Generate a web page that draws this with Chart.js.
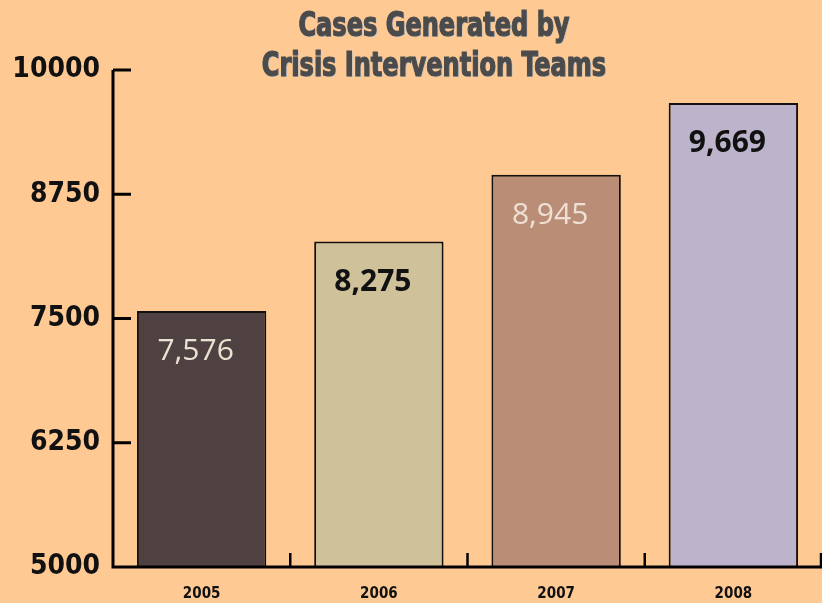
<!DOCTYPE html>
<html><head><meta charset="utf-8">
<script src="https://cdn.jsdelivr.net/npm/chart.js@4/dist/chart.umd.min.js"></script>
<style>html,body{margin:0;padding:0;background:#ffc994;}#wrap{width:822px;height:603px;}</style>
</head><body><div id="wrap"><canvas id="c" width="822" height="603"></canvas></div>
<script>
const categories = ['2005', '2006', '2007', '2008'];
const cases = [7576, 8275, 8945, 9669];
const valueLabels = ['7,576', '8,275', '8,945', '9,669'];
const yTicks = [5000, 6250, 7500, 8750, 10000];
const titleLines = ['Cases Generated by', 'Crisis Intervention Teams'];
const barColors = ['#4f4141', '#cfc29b', '#ba8d76', '#bdb3cb'];
const labelColors = ['#ece2d4', '#111111', '#efe0d6', '#111111'];
const labelWeights = ['normal', 'bold', 'normal', 'bold'];

const bg = {
  id: 'bg',
  beforeDraw(chart) {
    const ctx = chart.ctx;
    ctx.save(); ctx.fillStyle = '#ffc994'; ctx.fillRect(0, 0, chart.width, chart.height); ctx.restore();
  }
};

const deco = {
  id: 'deco',
  afterDraw(chart) {
    const ctx = chart.ctx, ca = chart.chartArea;
    const xs = chart.scales.x, ys = chart.scales.y;
    ctx.save();
    ctx.strokeStyle = '#000'; ctx.lineWidth = 3;
    ctx.beginPath();
    ctx.moveTo(ca.left, ys.getPixelForValue(10000));
    ctx.lineTo(ca.left, ys.getPixelForValue(5000));
    ctx.lineTo(ca.right, ys.getPixelForValue(5000));
    ctx.stroke();
    yTicks.forEach(v => {
      const y = ys.getPixelForValue(v);
      if (v === 5000) return;
      ctx.beginPath(); ctx.moveTo(ca.left, y); ctx.lineTo(ca.left + 18, y); ctx.stroke();
    });
    ctx.lineWidth = 2.5;
    const yb = ys.getPixelForValue(5000);
    for (let i = 0; i < categories.length; i++) {
      const a = xs.getPixelForValue(i);
      const b = i + 1 < categories.length ? xs.getPixelForValue(i + 1) : a + (a - xs.getPixelForValue(i - 1));
      const x = Math.min((a + b) / 2, ca.right - 1);
      ctx.beginPath(); ctx.moveTo(x, yb); ctx.lineTo(x, yb - 14); ctx.stroke();
    }
    const meta = chart.getDatasetMeta(0);
    ctx.textAlign = 'center'; ctx.textBaseline = 'middle';
    meta.data.forEach((bar, i) => {
      ctx.font = labelWeights[i] + ' 30px "Open Sans", sans-serif';
      ctx.fillStyle = labelColors[i];
      ctx.fillText(valueLabels[i], bar.x - 6, bar.y + 41);
    });
    ctx.font = 'bold 33px "DejaVu Sans Condensed", "Liberation Sans Narrow", sans-serif';
    titleLines.forEach((t, i) => {
      ctx.save();
      ctx.translate(434, 27 + i * 40);
      ctx.scale(0.81, 1);
      ctx.fillStyle = '#c4c4c4';
      ctx.fillText(t, 1.5, 1.5);
      ctx.fillStyle = '#4b4b4b';
      ctx.strokeStyle = '#4b4b4b';
      ctx.lineWidth = 1.2;
      ctx.fillText(t, 0, 0);
      ctx.strokeText(t, 0, 0);
      ctx.restore();
    });
    ctx.restore();
  }
};

new Chart(document.getElementById('c'), {
  type: 'bar',
  data: {
    labels: categories,
    datasets: [{
      data: cases,
      backgroundColor: barColors,
      borderColor: '#111',
      borderWidth: 2,
      borderSkipped: 'bottom',
      categoryPercentage: 0.73,
      barPercentage: 1.0
    }]
  },
  options: {
    responsive: false,
    animation: false,
    devicePixelRatio: 1,
    layout: { padding: { top: 70, right: 0, left: 0, bottom: 0 } },
    plugins: { legend: { display: false }, tooltip: { enabled: false }, title: { display: false } },
    scales: {
      x: {
        offset: true,
        grid: { display: false, drawTicks: false },
        border: { display: false },
        ticks: { color: '#111', font: { family: '"DejaVu Sans Condensed", sans-serif', weight: 'bold', size: 15 }, padding: 18 },
        afterFit(s) { s.height = 36; }
      },
      y: {
        min: 5000, max: 10000,
        afterBuildTicks(s) { s.ticks = yTicks.map(v => ({ value: v })); },
        grid: { display: false, drawTicks: false },
        border: { display: false },
        ticks: { color: '#111', font: { family: '"DejaVu Sans Condensed", sans-serif', weight: 'bold', size: 28 }, padding: 13,
                 callback: (v) => String(v) },
        afterFit(s) { s.width = 113; }
      }
    }
  },
  plugins: [bg, deco]
});
</script>
</body></html>
